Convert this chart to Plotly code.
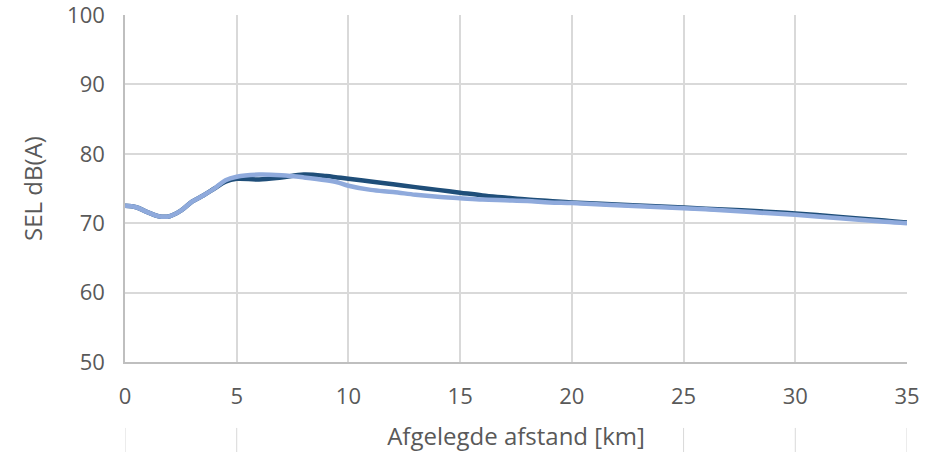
import plotly.graph_objects as go

distance_km = [0, 0.5, 1, 1.5, 2, 2.5, 3, 3.5, 4, 4.5, 5, 6, 7, 8, 9, 9.5, 10, 11, 12, 13, 14, 15, 16, 17, 18, 19, 20, 22, 24, 26, 28, 30, 32, 34, 35]
sel_dark = [72.5, 72.3, 71.6, 71.0, 71.0, 71.8, 73.1, 74.0, 75.0, 76.0, 76.4, 76.3, 76.6, 77.0, 76.8, 76.6, 76.4, 76.0, 75.6, 75.2, 74.8, 74.4, 74.0, 73.7, 73.4, 73.2, 73.0, 72.7, 72.4, 72.1, 71.8, 71.4, 70.9, 70.4, 70.1]
sel_light = [72.5, 72.3, 71.6, 71.0, 71.0, 71.8, 73.1, 74.0, 75.0, 76.2, 76.7, 77.0, 76.9, 76.6, 76.2, 75.9, 75.4, 74.8, 74.5, 74.1, 73.8, 73.6, 73.4, 73.3, 73.2, 73.0, 72.9, 72.6, 72.3, 72.0, 71.6, 71.2, 70.7, 70.2, 70.0]
x_ticks = [0, 5, 10, 15, 20, 25, 30, 35]
y_ticks = [50, 60, 70, 80, 90, 100]

font_family = "Open Sans, Liberation Sans, sans-serif"
grey = "#595959"

fig = go.Figure()
fig.add_trace(go.Scatter(x=distance_km, y=sel_dark, mode="lines",
                         line=dict(color="#1f4e79", width=4.5, shape="spline"),
                         showlegend=False))
fig.add_trace(go.Scatter(x=distance_km, y=sel_light, mode="lines",
                         line=dict(color="#8faadc", width=4.5, shape="spline"),
                         showlegend=False))

# faint extended tick lines below the axis
for xv in [0, 5, 25, 30, 35]:
    fig.add_shape(type="line", xref="x", yref="paper", x0=xv, x1=xv, y0=-0.19, y1=-0.32,
                  line=dict(color="#d9d9d9", width=1))

fig.update_layout(
    width=935, height=452,
    margin=dict(l=125, r=28, t=15, b=90),
    paper_bgcolor="white", plot_bgcolor="white",
    font=dict(family=font_family, color=grey, size=22),
    xaxis=dict(range=[0, 35], tickvals=x_ticks, showgrid=True, gridcolor="#d9d9d9", gridwidth=1.5,
               showline=True, linecolor="#bfbfbf", linewidth=1.5, zeroline=False, automargin=False,
               tickfont=dict(size=22, color=grey), ticks="outside", ticklen=14, tickcolor="rgba(0,0,0,0)",
               title=dict(text="Afgelegde afstand [km]", font=dict(size=24, color=grey), standoff=19)),
    yaxis=dict(range=[50, 100], tickvals=y_ticks, showgrid=True, gridcolor="#d9d9d9", gridwidth=1.5,
               showline=True, linecolor="#bfbfbf", linewidth=1.5, zeroline=False, automargin=False,
               ticklabeloverflow="allow",
               tickfont=dict(size=22, color=grey), ticks="outside", ticklen=14, tickcolor="rgba(0,0,0,0)",
               title=dict(text="SEL dB(A)", font=dict(size=24, color=grey), standoff=18)),
)

fig.write_html("out.html", config={"displayModeBar": False},
               post_script="document.body.style.margin='0px';")
